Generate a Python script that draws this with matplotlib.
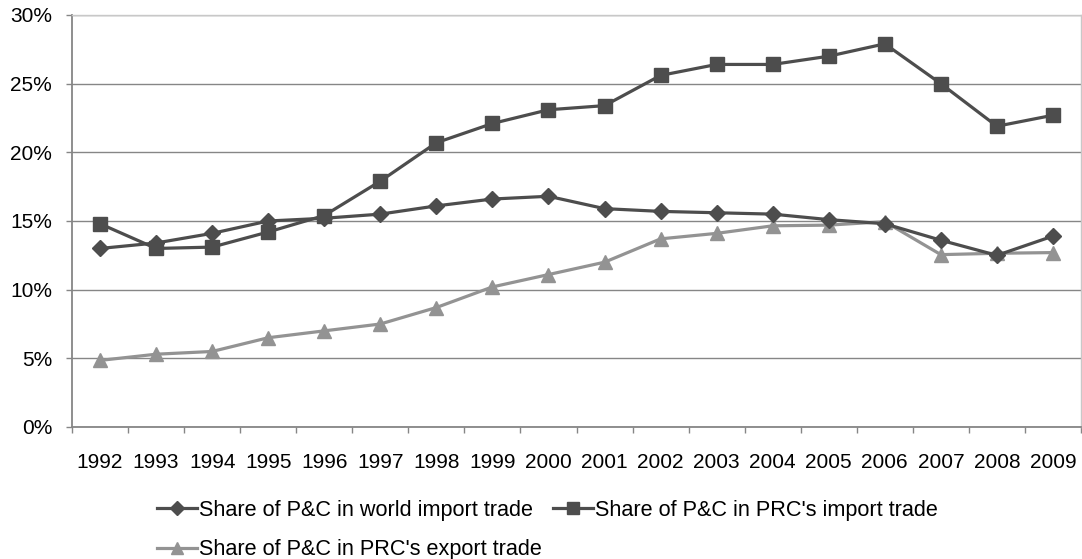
import matplotlib
matplotlib.use("Agg")
import matplotlib.pyplot as plt
from matplotlib.ticker import FuncFormatter, FixedLocator
import numpy as np

years = ["1992", "1993", "1994", "1995", "1996", "1997", "1998", "1999", "2000",
         "2001", "2002", "2003", "2004", "2005", "2006", "2007", "2008", "2009"]
world_import = [13.0, 13.4, 14.1, 15.0, 15.2, 15.5, 16.1, 16.6, 16.8,
                15.9, 15.7, 15.6, 15.5, 15.1, 14.8, 13.6, 12.5, 13.9]
prc_import = [14.8, 13.0, 13.1, 14.2, 15.4, 17.9, 20.7, 22.1, 23.1,
              23.4, 25.6, 26.4, 26.4, 27.0, 27.9, 25.0, 21.9, 22.7]
prc_export = [4.85, 5.3, 5.5, 6.5, 7.0, 7.5, 8.7, 10.2, 11.1,
              12.0, 13.7, 14.1, 14.65, 14.7, 14.95, 12.55, 12.65, 12.7]
labels = ["Share of P&C in world import trade",
          "Share of P&C in PRC's import trade",
          "Share of P&C in PRC's export trade"]

plt.rcParams['font.family'] = ['Liberation Sans', 'DejaVu Sans']

fig = plt.figure(figsize=(10.82, 5.59), dpi=100)
ax = fig.add_axes([72/1082, 1 - 427/559, 1009/1082, 412/559])

x = np.arange(len(years))
dark = "#4d4d4d"
light = "#939393"
l1, = ax.plot(x, world_import, color=dark, lw=2.3, marker="D", ms=8.5, zorder=4)
l2, = ax.plot(x, prc_import, color=dark, lw=2.3, marker="s", ms=10, zorder=3)
l3, = ax.plot(x, prc_export, color=light, lw=2.3, marker="^", ms=10.5, zorder=3)

ax.set_xlim(-0.5, len(years) - 0.5)
ax.set_ylim(0, 30)
ax.set_yticks(np.arange(0, 31, 5))
ax.yaxis.set_major_formatter(FuncFormatter(lambda v, p: f"{int(v)}%"))
ax.set_xticks(x)
ax.set_xticklabels(years)
ax.xaxis.set_minor_locator(FixedLocator(np.arange(-0.5, len(years), 1.0)))
ax.tick_params(axis="x", which="major", length=0, pad=19, labelsize=15)
ax.tick_params(axis="x", which="minor", length=4.3, width=1, color="#868686")
ax.tick_params(axis="y", length=4.3, width=1, color="#868686", pad=10, labelsize=15)

ax.grid(axis="y", color="#868686", lw=1)
ax.set_axisbelow(True)
for s in ["left", "bottom"]:
    ax.spines[s].set_color("#868686")
    ax.spines[s].set_linewidth(1.3)
ax.spines["right"].set_color("#c8c8c8")
ax.spines["top"].set_color("#c8c8c8")
ax.spines["right"].set_linewidth(1)
ax.spines["top"].set_linewidth(1)

leg = fig.legend([l1, l3, l2], [labels[0], labels[2], labels[1]], ncol=2,
                 loc="upper left", bbox_to_anchor=(157/1082, 1 - 500/559),
                 frameon=False, fontsize=15.6, handlelength=1.85, handletextpad=0.1,
                 columnspacing=0.5, labelspacing=0.85, borderaxespad=0, borderpad=0,
                 markerscale=0.8)

fig.savefig("out.png", dpi=100)
